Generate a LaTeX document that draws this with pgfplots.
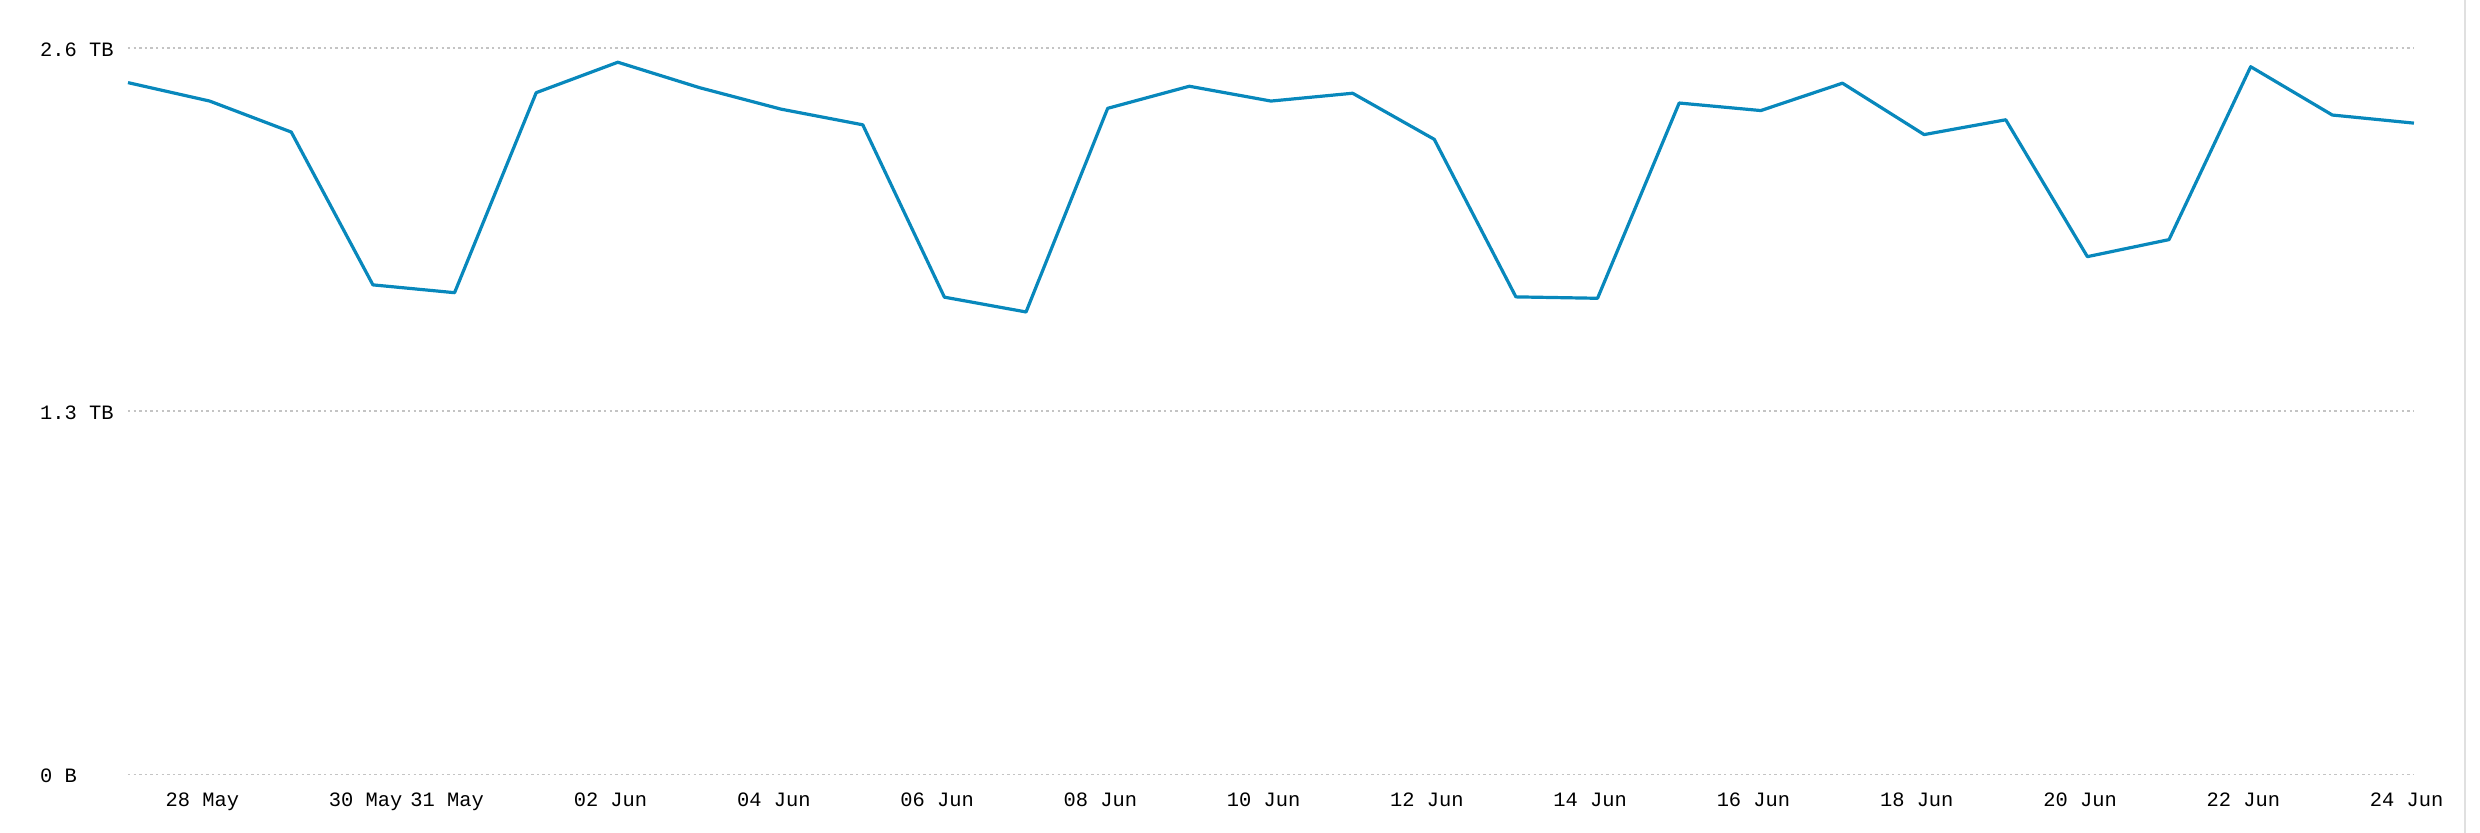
\documentclass[border=0pt]{standalone}
\usepackage{pgfplots}
\pgfplotsset{compat=1.18}
\usepackage{fontspec}
\setmainfont{Liberation Mono}
\setmonofont{Liberation Mono}
\definecolor{linec}{HTML}{0888BC}
\definecolor{gridc}{HTML}{C4C4C4}
\begin{document}
\fontsize{10}{12}\selectfont
\begin{tikzpicture}
\useasboundingbox (-64pt,-29.35pt) rectangle (1176pt,387.15pt);
\begin{axis}[
  at={(0pt,0pt)}, anchor=south west,
  scale only axis,
  width=1143pt, height=363.15pt,
  xmin=0, xmax=28, ymin=0, ymax=2.6,
  axis line style={draw=none},
  tick style={draw=none},
  ymajorgrids,
  grid style={gridc, line width=0.7pt, dash pattern=on 1.2pt off 1.6pt},
  ytick={0,1.3,2.6},
  yticklabels={{0 B\phantom{000}},{1.3 TB},{2.6 TB}},
  yticklabel style={anchor=east, inner sep=0pt, xshift=-7pt, yshift=-0.8pt, font=\fontsize{10.2}{12}\selectfont},
  xtick={0.91,2.91,3.91,5.91,7.91,9.91,11.91,13.91,15.91,17.91,19.91,21.91,23.91,25.91,27.91},
  xticklabels={28 May,30 May,31 May,02 Jun,04 Jun,06 Jun,08 Jun,10 Jun,12 Jun,14 Jun,16 Jun,18 Jun,20 Jun,22 Jun,24 Jun},
  xticklabel style={anchor=base, inner sep=0pt, yshift=-16.3pt, font=\fontsize{10.2}{12}\selectfont},
  clip=false,
]
\addplot[linec, line width=1.6pt, line join=round, mark=none] coordinates {
(0,2.476) (1,2.410) (2,2.299) (3,1.752) (4,1.724) (5,2.440) (6,2.549)
(7,2.458) (8,2.381) (9,2.325) (10,1.708) (11,1.655) (12,2.384) (13,2.463)
(14,2.410) (15,2.438) (16,2.273) (17,1.709) (18,1.704) (19,2.403) (20,2.376)
(21,2.474) (22,2.290) (23,2.343) (24,1.853) (25,1.914) (26,2.533) (27,2.360)
(28,2.331)
};
\end{axis}
\draw[black!12, line width=0.8pt] (1168.5pt,-29.35pt) -- (1168.5pt,387.15pt);
\end{tikzpicture}
\end{document}
